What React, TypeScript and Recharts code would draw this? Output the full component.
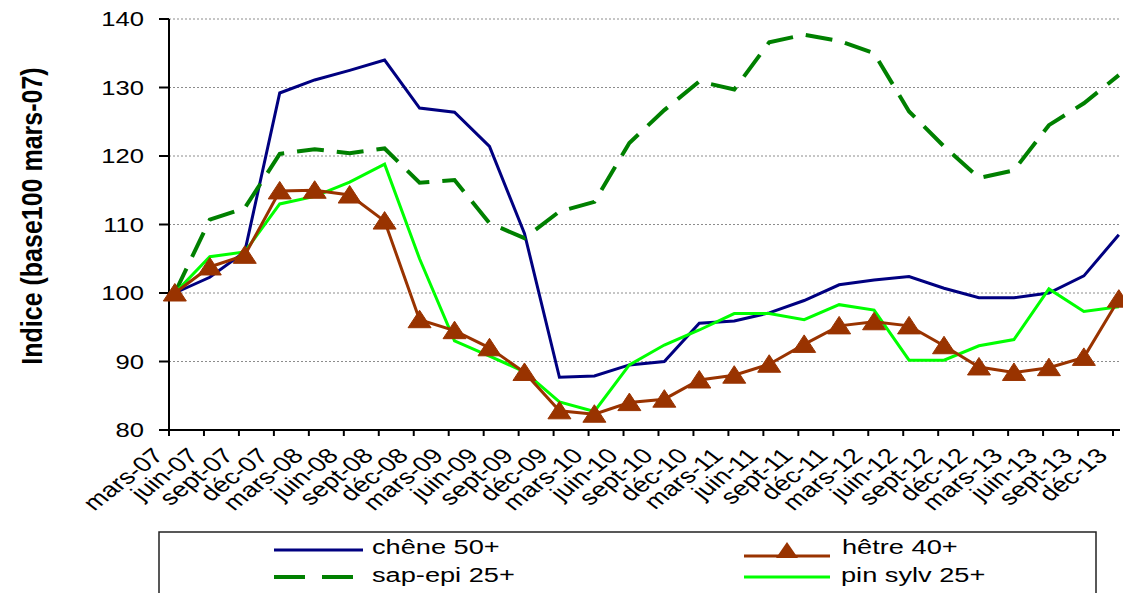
import React from 'react';
import { LineChart, Line, XAxis, YAxis, CartesianGrid } from 'recharts';

const periods = ["mars-07","juin-07","sept-07","déc-07","mars-08","juin-08","sept-08","déc-08","mars-09","juin-09","sept-09","déc-09","mars-10","juin-10","sept-10","déc-10","mars-11","juin-11","sept-11","déc-11","mars-12","juin-12","sept-12","déc-12","mars-13","juin-13","sept-13","déc-13"];

const chene = [100,102.3,106,129.2,131.1,132.5,134.0,127.0,126.4,121.4,108.7,87.7,87.9,89.5,90.0,95.6,95.9,97.1,98.9,101.2,101.9,102.4,100.7,99.3,99.3,100.0,102.5,108.5];
const hetre = [100,103.8,105.5,114.9,115.0,114.3,110.5,96.1,94.5,92.0,88.4,82.8,82.3,84.0,84.5,87.3,88.0,89.6,92.5,95.2,95.8,95.2,92.3,89.2,88.4,89.1,90.6,99.1];
const sapEpi = [100,110.7,112.4,120.3,121.0,120.4,121.1,116.1,116.5,110.2,108.0,111.9,113.3,121.9,126.7,130.9,129.7,136.6,137.7,136.8,135.0,126.5,121.4,116.8,117.9,124.5,127.7,131.8];
const pinSylv = [100,105.3,106.0,113.0,114.1,116.2,118.8,105.0,93.0,90.8,88.5,84.1,82.7,89.5,92.4,94.6,97.0,97.0,96.1,98.3,97.5,90.2,90.2,92.3,93.2,100.6,97.3,98.0];

const yTicks = [80, 90, 100, 110, 120, 130, 140];
const seriesNames = { chene: "chêne 50+", hetre: "hêtre 40+", sapEpi: "sap-epi 25+", pinSylv: "pin sylv 25+" };
const colors = { chene: "#000080", hetre: "#993300", sapEpi: "#008000", pinSylv: "#00FF00" };
const yTitle = "Indice (base100 mars-07)";

// months elapsed since mars-07; each quarterly value sits mid-month
const data = periods.map((p, i) => ({
  x: i * 3 + 0.5,
  label: p,
  chene: chene[i],
  hetre: hetre[i],
  sapEpi: sapEpi[i],
  pinSylv: pinSylv[i],
}));
const xTicks = periods.map((_, i) => i * 3);

const FONT = "'Liberation Sans', Arial, sans-serif";

const XTick = (props: any) => {
  const { x, y, payload } = props;
  const lbl = periods[Math.round(payload.value / 3)];
  return (
    <text
      transform={`translate(${x - 4},${y + 19}) scale(1.3,1) rotate(-45)`}
      textAnchor="end"
      fontSize={21}
      fontFamily={FONT}
      fill="#000"
    >
      {lbl}
    </text>
  );
};

const YTick = (props: any) => {
  const { x, y, payload } = props;
  return (
    <text
      transform={`translate(${x},${y}) scale(1.28,1)`}
      textAnchor="end"
      dy="0.36em"
      fontSize={20}
      fontFamily={FONT}
      fill="#000"
    >
      {payload.value}
    </text>
  );
};

const Tri = (props: any) => {
  const { cx, cy, index } = props;
  if (cx == null || cy == null) return <g key={`t${index}`} />;
  return (
    <polygon
      key={`t${index}`}
      points={`${cx},${cy - 9.5} ${cx - 11.5},${cy + 8} ${cx + 11.5},${cy + 8}`}
      fill={colors.hetre}
      stroke={colors.hetre}
      strokeWidth={1}
    />
  );
};

const LegendText = ({ x, y, children }: any) => (
  <text transform={`translate(${x},${y}) scale(1.36,1)`} fontSize={20} fontFamily={FONT} fill="#000">
    {children}
  </text>
);

export default function App() {
  return (
    <div style={{ position: 'absolute', left: 0, top: 0, width: 1123, height: 593, overflow: 'hidden', background: '#fff' }}>
      <LineChart
        width={1123}
        height={593}
        data={data}
        margin={{ top: 19, right: 3, bottom: 0, left: 0 }}
      >
        <CartesianGrid horizontal vertical={false} stroke="#8c8c8c" strokeDasharray="2 2" />
        <XAxis
          dataKey="x"
          type="number"
          domain={[0, 81.6]}
          ticks={xTicks}
          interval={0}
          height={163}
          tickSize={6}
          tickMargin={2}
          tick={<XTick />}
          axisLine={{ stroke: '#000', strokeWidth: 2 }}
          tickLine={{ stroke: '#000', strokeWidth: 2 }}
        />
        <YAxis
          type="number"
          domain={[80, 140]}
          ticks={yTicks}
          interval={0}
          width={169}
          tickSize={10}
          tickMargin={15}
          tick={<YTick />}
          axisLine={{ stroke: '#000', strokeWidth: 2 }}
          tickLine={{ stroke: '#000', strokeWidth: 2 }}
        />
        <Line type="linear" dataKey="chene" name={seriesNames.chene} stroke={colors.chene} strokeWidth={3} dot={false} isAnimationActive={false} />
        <Line type="linear" dataKey="sapEpi" name={seriesNames.sapEpi} stroke={colors.sapEpi} strokeWidth={4} strokeDasharray="27 13" dot={false} isAnimationActive={false} />
        <Line type="linear" dataKey="pinSylv" name={seriesNames.pinSylv} stroke={colors.pinSylv} strokeWidth={3} dot={false} isAnimationActive={false} />
        <Line type="linear" dataKey="hetre" name={seriesNames.hetre} stroke={colors.hetre} strokeWidth={3} dot={(p: any) => <Tri {...p} />} isAnimationActive={false} />
      </LineChart>
      <svg width={1123} height={593} style={{ position: 'absolute', left: 0, top: 0, pointerEvents: 'none' }}>
        <text
          transform="translate(42,216) scale(1.15,1) rotate(-90)"
          textAnchor="middle"
          fontSize={25}
          fontWeight="bold"
          fontFamily={FONT}
          fill="#000"
        >
          {yTitle}
        </text>
        <rect x={159} y={532} width={937} height={90} fill="none" stroke="#222" strokeWidth={1.5} />
        <line x1={274} y1={550} x2={363} y2={550} stroke={colors.chene} strokeWidth={3} />
        <LegendText x={372} y={554}>{seriesNames.chene}</LegendText>
        <line x1={274} y1={577} x2={353} y2={577} stroke={colors.sapEpi} strokeWidth={4} strokeDasharray="31 17" />
        <LegendText x={372} y={582}>{seriesNames.sapEpi}</LegendText>
        <line x1={744} y1={556} x2={830} y2={556} stroke={colors.hetre} strokeWidth={3} />
        <polygon points="787,542 776,558 798,558" fill={colors.hetre} />
        <LegendText x={842} y={554}>{seriesNames.hetre}</LegendText>
        <line x1={744} y1={577} x2={830} y2={577} stroke={colors.pinSylv} strokeWidth={3} />
        <LegendText x={841} y={582}>{seriesNames.pinSylv}</LegendText>
      </svg>
    </div>
  );
}
